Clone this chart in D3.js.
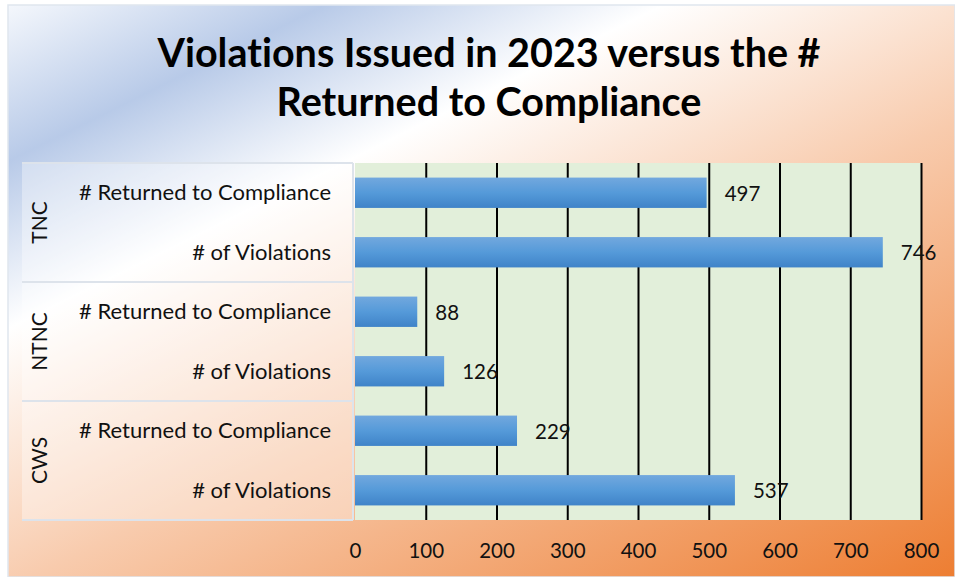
<!DOCTYPE html>
<html>
<head>
<meta charset="utf-8">
<script src="https://cdn.jsdelivr.net/npm/d3@7"></script>
<style>
  html, body { margin: 0; padding: 0; background: #fff; }
  svg { display: block; font-family: Lato, "Open Sans", sans-serif; font-variant-ligatures: none; }
</style>
</head>
<body>
<div id="chart"></div>
<script>
'use strict';

// data
const groups = ['TNC', 'NTNC', 'CWS'];
const measures = ['# Returned to Compliance', '# of Violations'];
const returned = [497, 88, 229];
const violations = [746, 126, 537];
const xTicks = [0, 100, 200, 300, 400, 500, 600, 700, 800];
const titleLines = ['Violations Issued in 2023 versus the #', 'Returned to Compliance'];

const width = 955;
const height = 577;

const rows = [];
groups.forEach((g, i) => {
  rows.push({ group: g, measure: measures[0], value: returned[i] });
  rows.push({ group: g, measure: measures[1], value: violations[i] });
});

const plot = { left: 355, right: 921, top: 163, bottom: 520 };
const panelLeft = 22;

const svg = d3.select('#chart')
  .append('svg')
    .attr('width', width)
    .attr('height', height);

const defs = svg.append('defs');

const bg = defs.append('linearGradient')
  .attr('id', 'bg')
  .attr('gradientUnits', 'userSpaceOnUse')
  .attr('x1', 8).attr('y1', 5)
  .attr('x2', 422).attr('y2', 844);
[
  [0, '#f4f7fc'],
  [0.15, '#b8cae8'],
  [0.31, '#ffffff'],
  [0.56, '#f8cbad'],
  [1, '#ed7d31']
].forEach(s => bg.append('stop').attr('offset', s[0]).attr('stop-color', s[1]));

const barGrad = defs.append('linearGradient')
  .attr('id', 'bar')
  .attr('x1', 0).attr('y1', 0)
  .attr('x2', 0).attr('y2', 1);
[
  [0, '#72a8de'],
  [0.5, '#559ad9'],
  [1, '#3f83c8']
].forEach(s => barGrad.append('stop').attr('offset', s[0]).attr('stop-color', s[1]));

// chart area
svg.append('rect')
  .attr('x', 8).attr('y', 5)
  .attr('width', width - 8).attr('height', height - 5)
  .attr('fill', 'url(#bg)')
  .attr('stroke', '#dfe6ee')
  .attr('stroke-width', 1.5);

// title
svg.append('text')
  .attr('text-anchor', 'middle')
  .attr('font-weight', 'bold')
  .attr('font-size', 39.5)
  .attr('fill', '#000')
  .selectAll('tspan')
  .data(titleLines)
  .join('tspan')
    .attr('x', 489)
    .attr('y', (d, i) => 67 + i * 49)
    .text(d => d);

const x = d3.scaleLinear()
  .domain([0, 800])
  .range([plot.left, plot.right]);

const y = d3.scaleBand()
  .domain(rows.map((d, i) => i))
  .range([plot.top, plot.bottom])
  .paddingInner(0.49)
  .paddingOuter(0.245);

// plot background
svg.append('rect')
  .attr('x', plot.left)
  .attr('y', plot.top)
  .attr('width', plot.right - plot.left)
  .attr('height', plot.bottom - plot.top)
  .attr('fill', '#e2efda');

// label panel
svg.append('rect')
  .attr('x', panelLeft)
  .attr('y', plot.top)
  .attr('width', plot.left - 2 - panelLeft)
  .attr('height', plot.bottom - plot.top)
  .attr('fill', '#fff')
  .attr('fill-opacity', 0.35);

const groupH = (plot.bottom - plot.top) / groups.length;
svg.append('g')
  .selectAll('line')
  .data(d3.range(groups.length + 1))
  .join('line')
    .attr('x1', panelLeft)
    .attr('x2', plot.left - 2)
    .attr('y1', i => plot.top + i * groupH)
    .attr('y2', i => plot.top + i * groupH)
    .attr('stroke', '#dde3eb')
    .attr('stroke-width', 2);

svg.append('line')
  .attr('x1', plot.left - 2).attr('x2', plot.left - 2)
  .attr('y1', plot.top).attr('y2', plot.bottom)
  .attr('stroke', '#dde3eb')
  .attr('stroke-width', 2);

// gridlines + tick labels
const axis = svg.append('g')
  .attr('transform', `translate(0,${plot.bottom})`)
  .call(d3.axisBottom(x)
    .tickValues(xTicks)
    .tickSize(-(plot.bottom - plot.top))
    .tickPadding(23)
    .tickFormat(d3.format('d')));

axis.select('.domain').remove();
axis.selectAll('.tick line')
  .attr('stroke', '#000')
  .attr('stroke-width', 2)
  .attr('display', d => d === 0 ? 'none' : null);
axis.selectAll('.tick text')
  .attr('font-family', 'Lato, sans-serif')
  .attr('font-size', 20.5)
  .attr('fill', '#111');

// bars
svg.append('g')
  .selectAll('rect')
  .data(rows)
  .join('rect')
    .attr('x', x(0))
    .attr('y', (d, i) => y(i))
    .attr('width', d => x(d.value) - x(0))
    .attr('height', y.bandwidth())
    .attr('fill', 'url(#bar)');

// value labels
svg.append('g')
  .selectAll('text')
  .data(rows)
  .join('text')
    .attr('x', d => x(d.value) + 18)
    .attr('y', (d, i) => y(i) + y.bandwidth() / 2)
    .attr('dy', '0.38em')
    .attr('font-size', 20.5)
    .attr('fill', '#111')
    .text(d => d.value);

// category labels
svg.append('g')
  .selectAll('text')
  .data(rows)
  .join('text')
    .attr('x', 331)
    .attr('y', (d, i) => y(i) + y.bandwidth() / 2)
    .attr('dy', '0.35em')
    .attr('text-anchor', 'end')
    .attr('font-size', 22)
    .attr('fill', '#111')
    .text(d => d.measure);

// group labels
svg.append('g')
  .selectAll('text')
  .data(groups)
  .join('text')
    .attr('transform', (d, i) => `translate(40,${plot.top + (i + 0.5) * groupH}) rotate(-90)`)
    .attr('text-anchor', 'middle')
    .attr('dy', '0.35em')
    .attr('font-size', 21)
    .attr('fill', '#111')
    .text(d => d);
</script>
</body>
</html>
